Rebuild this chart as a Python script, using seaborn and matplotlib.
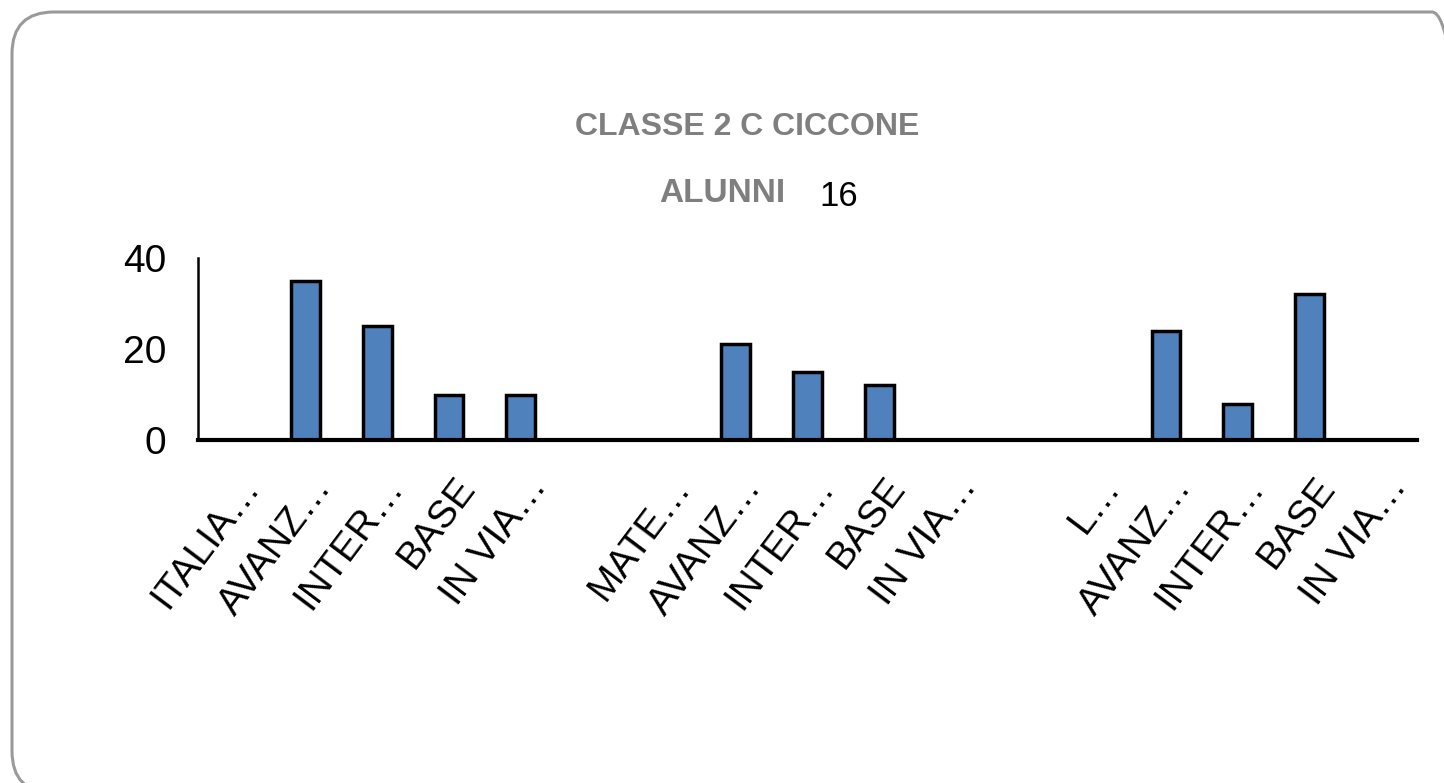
import matplotlib
matplotlib.use("Agg")
import matplotlib.pyplot as plt
from matplotlib import font_manager
from matplotlib.patches import FancyBboxPatch
from matplotlib.transforms import IdentityTransform, ScaledTranslation
import seaborn as sns
import pandas as pd

# Category labels (blank entries separate the three subject groups)
categories = ["ITALIA…", "AVANZ…", "INTER…", "BASE", "IN VIA…", "",
              "MATE…", "AVANZ…", "INTER…", "BASE", "IN VIA…", "",
              "L…", "AVANZ…", "INTER…", "BASE", "IN VIA…"]
values = [0, 35, 25, 10, 10, 0,
          0, 21, 15, 12, 0, 0,
          0, 24, 8, 32, 0]
y_ticks = [0, 20, 40]
title_line1 = "CLASSE 2 C CICCONE"
title_line2 = "ALUNNI"
student_count = "16"

W, H, DPI = 1444, 783, 100

sns.set_theme(style="white")

# Prefer a narrow sans face when one is installed
installed = {f.name for f in font_manager.fontManager.ttflist}
families = [f for f in ["Liberation Sans Narrow", "Liberation Sans", "DejaVu Sans"]
            if f in installed] or ["DejaVu Sans"]
plt.rcParams["font.family"] = families
plt.rcParams["text.color"] = "black"
plt.rcParams["xtick.color"] = "black"
plt.rcParams["ytick.color"] = "black"

df = pd.DataFrame({"pos": list(range(len(categories))), "value": values})

fig = plt.figure(figsize=(W / DPI, H / DPI), dpi=DPI)
fig.patch.set_facecolor("white")

# Rounded frame around the chart area (pixel coordinates)
frame = FancyBboxPatch((12, -10), 1462, 781,
                       boxstyle="round,pad=0,rounding_size=42",
                       transform=IdentityTransform(), facecolor="none",
                       edgecolor="#9a9a9a", linewidth=2.2)
fig.patches.append(frame)

ax = fig.add_axes([198 / W, 1 - 440 / H, (1417 - 198) / W, (440 - 258) / H])
sns.barplot(data=df, x="pos", y="value", order=list(range(len(categories))),
            color="#4F81BD", saturation=1, width=0.40,
            edgecolor="black", linewidth=2.5, ax=ax)

ax.set_ylim(0, 40)
ax.set_xlim(-0.5, len(categories) - 0.5)
ax.set_yticks(y_ticks)
ax.set_yticklabels([str(t) for t in y_ticks], fontsize=28, color="black")
ax.tick_params(axis="y", length=0, pad=23)
ax.set_xlabel("")
ax.set_ylabel("")

ax.set_xticks(list(range(len(categories))))
ax.set_xticklabels(categories, rotation=53, ha="right", va="baseline",
                   rotation_mode="anchor", fontsize=28, color="black")
ax.tick_params(axis="x", length=0, pad=0)
shift = ScaledTranslation(27 / DPI, -47 / DPI, fig.dpi_scale_trans)
for lbl in ax.get_xticklabels():
    lbl.set_transform(lbl.get_transform() + shift)

for side in ["top", "right"]:
    ax.spines[side].set_visible(False)
ax.spines["left"].set_color("black")
ax.spines["left"].set_linewidth(1.8)
ax.spines["bottom"].set_color("black")
ax.spines["bottom"].set_linewidth(3)
ax.grid(False)
ax.set_facecolor("white")

# Title block
fig.text(747.5 / W, 1 - 127 / H, title_line1, ha="center", va="center",
         fontsize=23, fontweight="bold", color="#7f7f7f")
fig.text(722 / W, 1 - 194 / H, title_line2, ha="center", va="center",
         fontsize=24, fontweight="bold", color="#7f7f7f")
fig.text(839 / W, 1 - 196 / H, student_count, ha="center", va="center",
         fontsize=25, color="black")

fig.savefig("out.png", dpi=DPI)
